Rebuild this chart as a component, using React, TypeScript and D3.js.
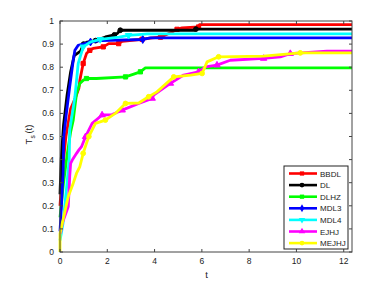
import React, { useEffect, useRef } from 'react';
import * as d3 from 'd3';

type Pt = [number, number];

const seriesNames = ['BBDL', 'DL', 'DLHZ', 'MDL3', 'MDL4', 'EJHJ', 'MEJHJ'];
const seriesColors = ['#ff0000', '#000000', '#00ff00', '#0000ff', '#00ffff', '#ff00ff', '#ffff00'];
const seriesMarkers = [d3.symbolSquare, d3.symbolCircle, d3.symbolSquare, d3.symbolDiamond, d3.symbolTriangle, d3.symbolTriangle, d3.symbolCircle];
const markerRotate = [0, 0, 0, 0, 180, 0, 0];

const xTicks = [0, 2, 4, 6, 8, 10, 12];
const yTicks = [0, 0.1, 0.2, 0.3, 0.4, 0.5, 0.6, 0.7, 0.8, 0.9, 1];

const bbdl: Pt[] = [[0, 0.2], [0.1, 0.35], [0.25, 0.5], [0.45, 0.62], [0.66, 0.67], [0.8, 0.71], [0.84, 0.744], [0.98, 0.816], [1.12, 0.859], [1.26, 0.873], [1.4, 0.881], [1.83, 0.888], [2.06, 0.902], [2.48, 0.902], [2.63, 0.912], [3.47, 0.921], [3.9, 0.927], [4.25, 0.93], [4.74, 0.952], [4.95, 0.964], [5.16, 0.97], [5.86, 0.974], [5.9, 0.984], [12.4, 0.984]];
const dl: Pt[] = [[0, 0.25], [0.05, 0.4], [0.15, 0.55], [0.3, 0.68], [0.45, 0.78], [0.6, 0.85], [0.87, 0.87], [1.0, 0.9], [1.15, 0.909], [1.5, 0.915], [1.92, 0.931], [2.3, 0.94], [2.42, 0.946], [2.55, 0.96], [5.7, 0.96], [5.75, 0.965], [12.4, 0.965]];
const dlhz: Pt[] = [[0, 0.15], [0.15, 0.3], [0.3, 0.42], [0.45, 0.52], [0.56, 0.571], [0.63, 0.629], [0.7, 0.686], [0.84, 0.73], [1.0, 0.745], [1.12, 0.751], [1.54, 0.751], [2.77, 0.758], [3.12, 0.77], [3.4, 0.78], [3.61, 0.797], [12.4, 0.797]];
const mdl3: Pt[] = [[0, 0.09], [0.06, 0.2], [0.13, 0.34], [0.16, 0.5], [0.27, 0.6], [0.41, 0.715], [0.56, 0.83], [0.63, 0.873], [0.77, 0.895], [1.29, 0.909], [1.7, 0.915], [3.5, 0.92], [3.82, 0.927], [12.4, 0.927]];
const mdl4: Pt[] = [[0, 0.05], [0.13, 0.126], [0.27, 0.27], [0.39, 0.4], [0.41, 0.528], [0.63, 0.672], [0.77, 0.816], [0.98, 0.888], [1.3, 0.91], [1.7, 0.92], [2.5, 0.93], [2.9, 0.938], [3.7, 0.944], [12.4, 0.944]];
const ejhj: Pt[] = [[0.02, 0.08], [0.1, 0.125], [0.35, 0.197], [0.41, 0.326], [0.45, 0.384], [0.52, 0.398], [0.7, 0.427], [0.8, 0.442], [0.91, 0.456], [1.08, 0.499], [1.36, 0.557], [1.78, 0.593], [2.2, 0.595], [2.63, 0.614], [3.33, 0.643], [3.9, 0.665], [3.96, 0.679], [4.67, 0.73], [5.23, 0.766], [5.86, 0.78], [6.15, 0.801], [6.64, 0.809], [7.2, 0.83], [8.61, 0.838], [9.32, 0.845], [9.74, 0.859], [11.29, 0.87], [12.4, 0.87]];
const mejhj: Pt[] = [[0, 0], [0, 0.08], [0.13, 0.14], [0.35, 0.24], [0.56, 0.298], [0.7, 0.341], [0.84, 0.37], [0.98, 0.427], [1.12, 0.471], [1.22, 0.5], [1.5, 0.557], [1.92, 0.571], [2.34, 0.6], [2.77, 0.643], [3.33, 0.645], [3.75, 0.672], [4.1, 0.693], [4.81, 0.758], [5.53, 0.766], [6.01, 0.773], [6.22, 0.823], [6.71, 0.845], [8.61, 0.848], [10.16, 0.862], [12.4, 0.862]];

const allSeries = [bbdl, dl, dlhz, mdl3, mdl4, ejhj, mejhj];

const App: React.FC = () => {
  const svgRef = useRef<SVGSVGElement>(null);

  useEffect(() => {
    if (!svgRef.current) return;
    const svg = d3.select(svgRef.current);
    svg.selectAll('*').remove();

    const margin = { top: 21, right: 23, bottom: 38, left: 60 };
    const width = 375;
    const height = 290;
    const w = width - margin.left - margin.right;
    const h = height - margin.top - margin.bottom;
    const font = 'Liberation Sans, Arial, sans-serif';
    const axisColor = '#444';

    const x = d3.scaleLinear().domain([0, 12.35]).range([0, w]);
    const y = d3.scaleLinear().domain([0, 1]).range([h, 0]);

    const g = svg.append('g').attr('transform', `translate(${margin.left},${margin.top})`);

    g.append('clipPath').attr('id', 'plot-clip')
      .append('rect').attr('x', -2).attr('y', -2).attr('width', w + 2).attr('height', h + 4);

    // ### Lines
    const line = d3.line<Pt>().x(d => x(d[0])).y(d => y(d[1]));
    const plot = g.append('g').attr('clip-path', 'url(#plot-clip)');
    allSeries.forEach((data, i) => {
      plot.append('path')
        .datum(data)
        .attr('fill', 'none')
        .attr('stroke', seriesColors[i])
        .attr('stroke-width', 2.8)
        .attr('stroke-linejoin', 'round')
        .attr('d', line);
      // sparse markers, mostly on the flatter parts
      const sym = d3.symbol().type(seriesMarkers[i]).size(18);
      plot.selectAll(null)
        .data(data.filter((d, j) => d[0] > 0.9 && j < data.length - 1 && j % 2 === 1))
        .enter()
        .append('path')
        .attr('d', sym)
        .attr('transform', d => `translate(${x(d[0])},${y(d[1])}) rotate(${markerRotate[i]})`)
        .attr('fill', seriesColors[i])
        .attr('stroke', seriesColors[i]);
    });

    // ### Axes box and ticks (inward)
    g.append('rect').attr('x', 0).attr('y', 0).attr('width', w).attr('height', h)
      .attr('fill', 'none').attr('stroke', axisColor).attr('stroke-width', 1);

    xTicks.forEach(t => {
      const px = x(t);
      g.append('line').attr('x1', px).attr('x2', px).attr('y1', h).attr('y2', h - 3).attr('stroke', axisColor);
      g.append('line').attr('x1', px).attr('x2', px).attr('y1', 0).attr('y2', 3).attr('stroke', axisColor);
      g.append('text').attr('x', px).attr('y', h + 12).attr('text-anchor', 'middle')
        .attr('font-family', font).attr('font-size', 8.5).attr('fill', '#222').text(String(t));
    });
    yTicks.forEach(t => {
      const py = y(t);
      g.append('line').attr('x1', 0).attr('x2', 3).attr('y1', py).attr('y2', py).attr('stroke', axisColor);
      g.append('line').attr('x1', w).attr('x2', w - 3).attr('y1', py).attr('y2', py).attr('stroke', axisColor);
      g.append('text').attr('x', -6).attr('y', py + 3).attr('text-anchor', 'end')
        .attr('font-family', font).attr('font-size', 8.5).attr('fill', '#222').text(String(t));
    });

    // ### Axis labels
    g.append('text').attr('x', x(6.2)).attr('y', h + 26).attr('text-anchor', 'middle')
      .attr('font-family', font).attr('font-size', 9.5).attr('fill', '#222').text('t');

    const yl = g.append('text')
      .attr('transform', `translate(-28,${h / 2 - 2}) rotate(-90)`)
      .attr('text-anchor', 'middle')
      .attr('font-family', font).attr('font-size', 9.5).attr('fill', '#222');
    yl.append('tspan').text('T');
    yl.append('tspan').attr('font-size', 6.5).attr('dy', 3).text('s');
    yl.append('tspan').attr('font-size', 6.5).attr('dy', -3).text(' ');
    yl.append('tspan').text('(t)');

    // ### Legend
    const lx = 224;
    const ly = 145;
    const legend = g.append('g').attr('transform', `translate(${lx},${ly})`);
    legend.append('rect').attr('x', 0).attr('y', 0).attr('width', 64).attr('height', 83)
      .attr('fill', '#fff').attr('stroke', '#222').attr('stroke-width', 1);
    seriesNames.forEach((name, i) => {
      const ry = 7.5 + i * 11.6;
      legend.append('line').attr('x1', 5).attr('x2', 33).attr('y1', ry).attr('y2', ry)
        .attr('stroke', seriesColors[i]).attr('stroke-width', 2.6);
      legend.append('path')
        .attr('d', d3.symbol().type(seriesMarkers[i]).size(18))
        .attr('transform', `translate(18,${ry}) rotate(${markerRotate[i]})`)
        .attr('fill', seriesColors[i]);
      legend.append('text').attr('x', 36).attr('y', ry + 3)
        .attr('font-family', font).attr('font-size', 8).attr('fill', '#222').text(name);
    });
  }, []);

  return (
    <div style={{ position: 'absolute', left: 0, top: 0 }}>
      <svg ref={svgRef} width={375} height={290} style={{ display: 'block' }}></svg>
    </div>
  );
};

export default App;
